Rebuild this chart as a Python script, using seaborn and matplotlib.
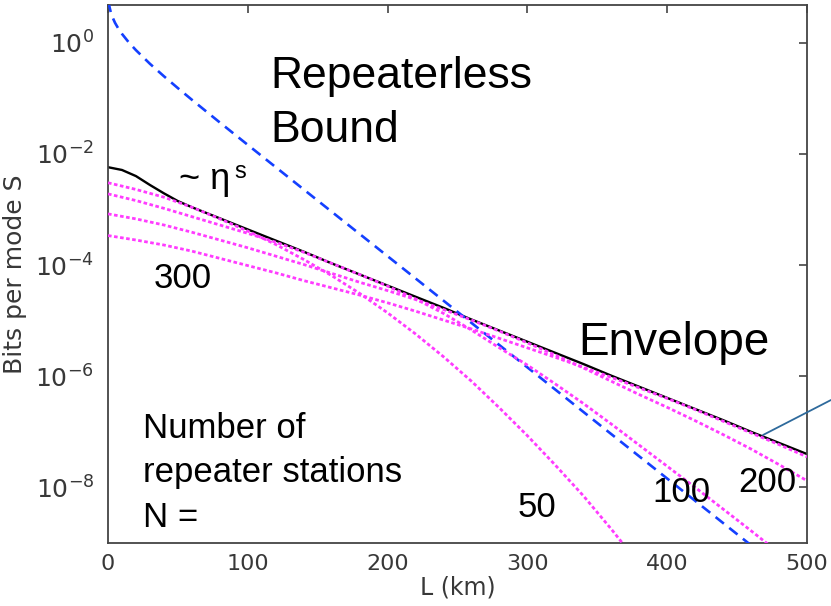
import numpy as np
import matplotlib
matplotlib.use("Agg")
import matplotlib.pyplot as plt
import matplotlib.transforms as mtransforms
from matplotlib.lines import Line2D
from matplotlib.ticker import NullLocator
import seaborn as sns

# Repeaterless bound (log10 of bits per mode) versus distance
bound_km = [0.5, 1, 2, 3, 5, 7.5, 10, 15, 20, 30, 40, 50, 60, 80, 100,
            150, 200, 250, 300, 350, 400, 450, 470]
bound_log10 = [0.737, 0.650, 0.545, 0.470, 0.358, 0.249, 0.158, 0.001, -0.135,
               -0.380, -0.604, -0.818, -1.027, -1.436, -1.839, -2.841, -3.841,
               -4.841, -5.841, -6.841, -7.841, -8.841, -9.241]

# Envelope over all repeater-chain sizes
env_km = [0, 10, 20, 30, 40, 50, 60, 80, 100, 120, 140, 160, 180, 200, 220, 240,
          260, 280, 300, 320, 340, 360, 380, 400, 420, 440, 460, 480, 500]
env_log10 = [-2.24, -2.29, -2.40, -2.56, -2.71, -2.85, -2.96, -3.16, -3.36, -3.56,
             -3.76, -3.97, -4.17, -4.37, -4.57, -4.77, -4.98, -5.18, -5.38, -5.58,
             -5.78, -5.99, -6.19, -6.39, -6.59, -6.79, -7.00, -7.20, -7.40]

# Chains with N repeater stations
n300_km = [0, 20, 40, 60, 80, 100, 120, 140, 160, 180, 200, 220, 240, 260, 280,
           300, 320, 340, 360, 380, 400, 420, 440, 460, 480, 500]
n300_log10 = [-3.47, -3.55, -3.64, -3.75, -3.88, -4.01, -4.14, -4.28, -4.41, -4.54,
              -4.68, -4.83, -4.99, -5.15, -5.32, -5.49, -5.66, -5.84, -6.02, -6.21,
              -6.40, -6.60, -6.81, -7.02, -7.23, -7.45]

n200_km = [0, 20, 40, 60, 80, 100, 120, 140, 160, 180, 200, 220, 240, 260, 280,
           300, 320, 340, 360, 380, 400, 420, 440, 460, 480, 500]
n200_log10 = [-3.08, -3.17, -3.28, -3.41, -3.55, -3.69, -3.84, -3.99, -4.15, -4.31,
              -4.46, -4.62, -4.80, -4.99, -5.19, -5.40, -5.62, -5.85, -6.09, -6.33,
              -6.56, -6.80, -7.05, -7.31, -7.59, -7.88]

n100_km = [0, 20, 40, 60, 80, 100, 120, 140, 160, 180, 200, 220, 240, 260, 280,
           300, 320, 340, 360, 380, 400, 420, 440, 460, 480]
n100_log10 = [-2.72, -2.84, -2.98, -3.13, -3.28, -3.43, -3.59, -3.77, -3.97, -4.17,
              -4.38, -4.61, -4.87, -5.17, -5.49, -5.80, -6.14, -6.49, -6.86, -7.24,
              -7.62, -8.00, -8.39, -8.78, -9.18]

n50_km = [0, 20, 40, 60, 80, 100, 120, 140, 160, 180, 200, 220, 240, 260, 280,
          300, 320, 340, 360, 380]
n50_log10 = [-2.52, -2.64, -2.78, -2.96, -3.17, -3.39, -3.63, -3.90, -4.19, -4.51,
             -4.86, -5.24, -5.65, -6.09, -6.57, -7.07, -7.60, -8.15, -8.75, -9.38]

x_ticks = [0, 100, 200, 300, 400, 500]
y_ticks = [1e0, 1e-2, 1e-4, 1e-6, 1e-8]
y_tick_labels = [r"$10^{0}$", r"$10^{-2}$", r"$10^{-4}$", r"$10^{-6}$", r"$10^{-8}$"]

sns.set_theme(style="white")
plt.rcParams["font.family"] = ["DejaVu Sans"]
plt.rcParams["mathtext.fontset"] = "dejavusans"

W, H = 831, 606
fig = plt.figure(figsize=(W / 100, H / 100), dpi=100)
ax = fig.add_axes([108 / W, 1 - 543 / H, (807 - 108) / W, (543 - 5) / H])

magenta = "#ff3cff"
dot_style = (0, (1.3, 0.9))

sns.lineplot(x=bound_km, y=10 ** np.array(bound_log10), ax=ax, color="#1440ff",
             linewidth=1.9, linestyle=(0, (4.0, 2.6)), zorder=3)
sns.lineplot(x=env_km, y=10 ** np.array(env_log10), ax=ax, color="black",
             linewidth=1.7, zorder=2)
for km, vals in [(n300_km, n300_log10), (n200_km, n200_log10),
                 (n100_km, n100_log10), (n50_km, n50_log10)]:
    sns.lineplot(x=km, y=10 ** np.array(vals), ax=ax, color=magenta,
                 linewidth=2.0, linestyle=dot_style, zorder=4)

ax.set_yscale("log")
ax.set_xlim(0, 500)
ax.set_ylim(1e-9, 4.76)
ax.set_xticks(x_ticks)
ax.set_yticks(y_ticks)
ax.set_yticklabels(y_tick_labels)
ax.yaxis.set_minor_locator(NullLocator())
ax.tick_params(direction="in", top=True, right=True, length=6, width=1.2,
               color="#444444", labelcolor="#383838")
ax.tick_params(axis="y", pad=10, labelsize=18)
ax.tick_params(axis="x", pad=8, labelsize=16)
for sp in ax.spines.values():
    sp.set_color("#444444")
    sp.set_linewidth(1.3)

ax.set_xlabel("L (km)", fontsize=17, color="#383838", labelpad=1)
ax.set_ylabel("Bits per mode S", fontsize=18, color="#383838", labelpad=6)

# pixel-based placement for the annotations
px = mtransforms.Affine2D().scale(1 / W, -1 / H).translate(0, 1) + fig.transFigure
label_font = "Liberation Sans"

def note(x, y, s, size):
    fig.text(x, y, s, transform=px, fontsize=size, family=label_font,
             color="black", ha="left", va="baseline")

note(270, 88, "Repeaterless", 32)
note(270, 142, "Bound", 32)
note(578, 355, "Envelope", 33)
note(179, 189, "~ η", 26)
note(234, 178, "s", 17)
note(154, 288, "300", 25)
note(518, 517, "50", 25)
note(652, 502, "100", 25)
note(738, 492, "200", 25)
note(143, 438, "Number of", 25)
note(143, 482, "repeater stations", 25)
note(143, 527, "N =", 25)

fig.add_artist(Line2D([763, 831], [435, 400], transform=px, color="#2e6a9c",
                      linewidth=1.3))

fig.savefig("out.png", dpi=100)
